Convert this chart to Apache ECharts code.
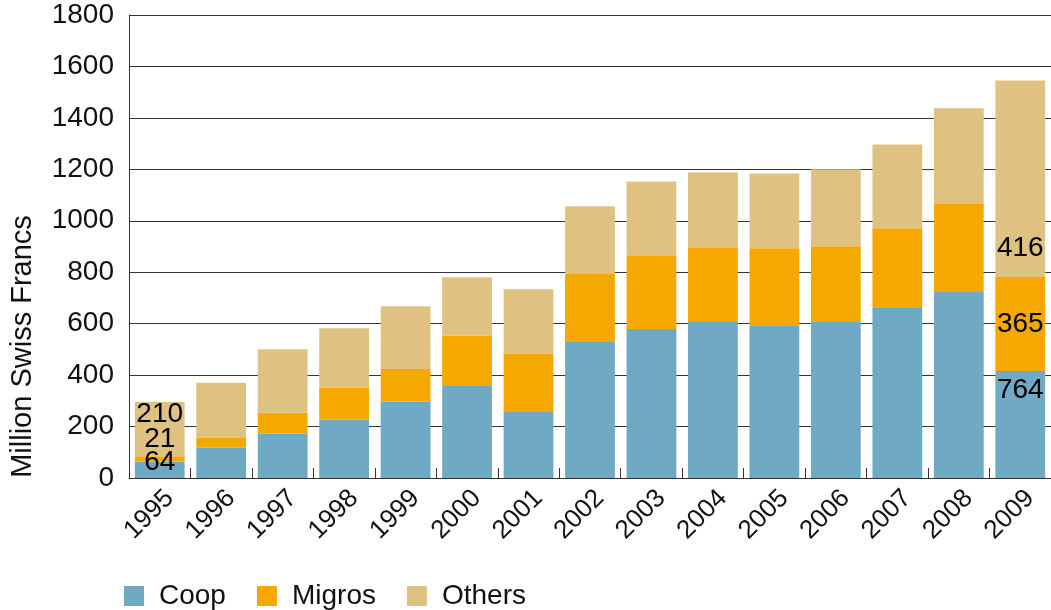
<!DOCTYPE html>
<html>
<head>
<meta charset="utf-8">
<script src="https://cdn.jsdelivr.net/npm/echarts@6/dist/echarts.min.js"></script>
<style>
html,body{margin:0;padding:0;background:#fff;}
#chart{width:1051px;height:610px;}
</style>
</head>
<body>
<div id="chart"></div>
<script>
const years = ['1995','1996','1997','1998','1999','2000','2001','2002','2003','2004','2005','2006','2007','2008','2009'];
const coop   = [64, 118, 172, 226, 296, 361, 257, 529, 579, 606, 594, 606, 664, 723, 416];
const migros = [21, 39, 82, 125, 128, 192, 226, 264, 287, 291, 299, 295, 307, 345, 365];
const others = [210, 213, 247, 231, 244, 227, 251, 263, 287, 291, 291, 299, 326, 369, 764];
// value labels as printed in the chart (only first and last year)
const coopLabels   = ['64', '', '', '', '', '', '', '', '', '', '', '', '', '', '764'];
const migrosLabels = ['21', '', '', '', '', '', '', '', '', '', '', '', '', '', '365'];
const othersLabels = ['210', '', '', '', '', '', '', '', '', '', '', '', '', '', '416'];
const yTicks = [0, 200, 400, 600, 800, 1000, 1200, 1400, 1600, 1800];

const FONT = 'Liberation Sans';
const colors = {Coop: '#6fa9c4', Migros: '#f5a800', Others: '#dfc182'};

function mkData(vals, labels, offFirst, offLast) {
  return vals.map((v, i) => {
    const o = {value: v};
    if (labels[i]) {
      o.label = {show: true, position: 'inside', formatter: labels[i],
        offset: [0, i === 0 ? offFirst : offLast],
        color: '#000', fontSize: 28, fontFamily: FONT};
    }
    return o;
  });
}

const chart = echarts.init(document.getElementById('chart'), null, {renderer: 'canvas'});
chart.setOption({
  animation: false,
  backgroundColor: '#fff',
  grid: {left: 125, right: -4, top: 15, bottom: 132, containLabel: false},
  legend: {
    data: ['Coop', 'Migros', 'Others'],
    left: 119, top: 577,
    itemWidth: 20, itemHeight: 20, itemGap: 31,
    icon: 'rect',
    textStyle: {fontSize: 28, fontFamily: FONT, color: '#111', padding: [0, 0, 0, 10]}
  },
  xAxis: {
    type: 'category',
    data: years,
    axisLine: {show: true, lineStyle: {color: '#333', width: 1}},
    axisTick: {show: true, inside: true, length: 10, interval: 0, lineStyle: {color: '#333'}},
    axisLabel: {rotate: 45, interval: 0, fontSize: 26, fontFamily: FONT, color: '#111',
      margin: 26, padding: [0, -14, 0, 0]}
  },
  yAxis: {
    type: 'value',
    min: yTicks[0], max: yTicks[yTicks.length - 1], interval: 200,
    name: 'Million Swiss Francs',
    nameLocation: 'middle',
    nameGap: 92,
    nameRotate: 90,
    nameTextStyle: {fontSize: 29, fontFamily: FONT, color: '#111', padding: [0, 200, 0, 0]},
    axisLine: {show: true, lineStyle: {color: '#333', width: 1}},
    axisTick: {show: false},
    splitLine: {show: true, lineStyle: {color: '#333', width: 1}},
    axisLabel: {fontSize: 28, fontFamily: FONT, color: '#111', margin: 15,
      formatter: v => String(v)}
  },
  series: [
    {name: 'Coop', type: 'bar', stack: 'total', barCategoryGap: '19%',
     itemStyle: {color: colors.Coop}, data: mkData(coop, coopLabels, -7, -34)},
    {name: 'Migros', type: 'bar', stack: 'total',
     itemStyle: {color: colors.Migros}, data: mkData(migros, migrosLabels, -20, 0)},
    {name: 'Others', type: 'bar', stack: 'total',
     itemStyle: {color: colors.Others}, data: mkData(others, othersLabels, -15, 69)}
  ]
});
</script>
</body>
</html>
